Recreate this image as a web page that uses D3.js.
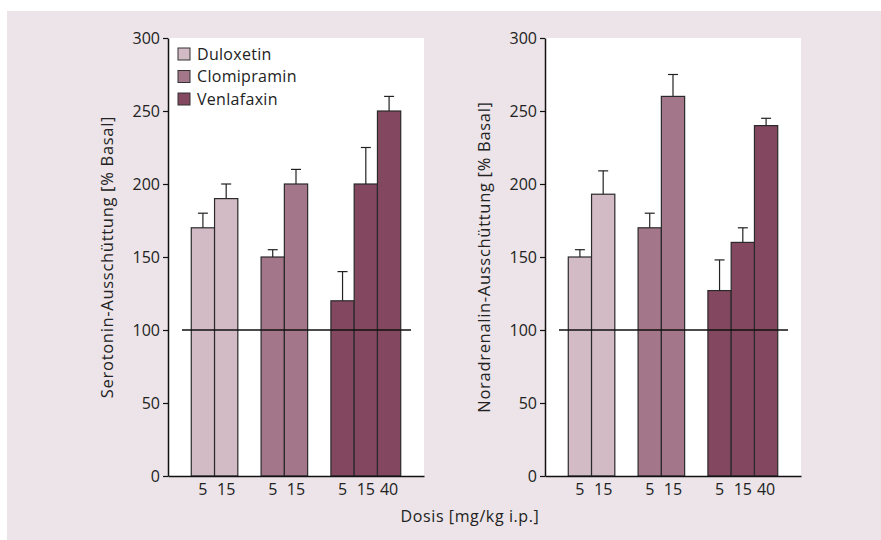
<!DOCTYPE html>
<html>
<head>
<meta charset="utf-8">
<script src="https://cdn.jsdelivr.net/npm/d3@7"></script>
<style>
  body { margin: 0; background: #fff; }
  svg { display: block; font-family: "Open Sans", "Noto Sans", sans-serif; }
</style>
</head>
<body>
<svg id="chart" width="881" height="540"></svg>
<script>
// Drugs and doses
const drugs = ["Duloxetin", "Clomipramin", "Venlafaxin"];
const drugColors = ["#d3bbc6", "#a37689", "#83475f"];
const doses = [[5, 15], [5, 15], [5, 15, 40]];

// Values (% basal) and upper error bars, per panel
const serotoninMean = [[170, 190], [150, 200], [120, 200, 250]];
const serotoninErr = [[180, 200], [155, 210], [140, 225, 260]];
const noradrenalinMean = [[150, 193], [170, 260], [127, 160, 240]];
const noradrenalinErr = [[155, 209], [180, 275], [148, 170, 245]];

const yTicks = [0, 50, 100, 150, 200, 250, 300];
const baseline = 100;

const svg = d3.select("#chart");

// outer background panel
svg.append("rect")
  .attr("x", 7).attr("y", 11)
  .attr("width", 874).attr("height", 529)
  .attr("fill", "#ece4e8");

function drawPanel(left, means, errs, yTitle, showLegend) {
  const top = 38, bottom = 476, width = 256;
  const g = svg.append("g");

  // build slot list: gap, bars..., gap, bars..., gap
  const rows = [];
  const slots = ["gap0"];
  drugs.forEach((drug, i) => {
    doses[i].forEach((dose, j) => {
      const key = drug + "-" + dose;
      rows.push({ key, drug, i, dose, value: means[i][j], err: errs[i][j] });
      slots.push(key);
    });
    slots.push("gap" + (i + 1));
  });

  const x = d3.scaleBand().domain(slots).range([left, left + width]).padding(0);
  const y = d3.scaleLinear().domain([0, 300]).range([bottom, top]);

  // white plot area
  g.append("rect")
    .attr("x", left).attr("y", top)
    .attr("width", width).attr("height", bottom - top)
    .attr("fill", "#fff");

  // bars
  g.selectAll("rect.bar")
    .data(rows)
    .join("rect")
    .attr("class", "bar")
    .attr("x", (d) => x(d.key))
    .attr("y", (d) => y(d.value))
    .attr("width", x.bandwidth())
    .attr("height", (d) => y(0) - y(d.value))
    .attr("fill", (d) => drugColors[d.i])
    .attr("stroke", "#2a2a2a")
    .attr("stroke-width", 1.2);

  // error bars (upper only)
  const eb = g.selectAll("g.err").data(rows).join("g").attr("class", "err");
  eb.append("line")
    .attr("x1", (d) => x(d.key) + x.bandwidth() / 2)
    .attr("x2", (d) => x(d.key) + x.bandwidth() / 2)
    .attr("y1", (d) => y(d.value))
    .attr("y2", (d) => y(d.err))
    .attr("stroke", "#222").attr("stroke-width", 1.2);
  eb.append("line")
    .attr("x1", (d) => x(d.key) + x.bandwidth() / 2 - 5)
    .attr("x2", (d) => x(d.key) + x.bandwidth() / 2 + 5)
    .attr("y1", (d) => y(d.err))
    .attr("y2", (d) => y(d.err))
    .attr("stroke", "#222").attr("stroke-width", 1.2);

  // 100 % reference line
  g.append("line")
    .attr("x1", left + 14).attr("x2", left + width - 13)
    .attr("y1", y(baseline)).attr("y2", y(baseline))
    .attr("stroke", "#111").attr("stroke-width", 1.5);

  // y axis
  const yAxis = g.append("g")
    .attr("transform", `translate(${left},0)`)
    .call(d3.axisLeft(y).tickValues(yTicks).tickSize(5).tickSizeOuter(0).tickPadding(3));
  yAxis.select(".domain").attr("stroke", "#111").attr("stroke-width", 1.5);
  yAxis.selectAll(".tick line").attr("stroke", "#111").attr("stroke-width", 1.2);
  yAxis.selectAll("text")
    .attr("font-size", "16px")
    .attr("font-family", "Open Sans, sans-serif")
    .attr("fill", "#222");

  // x axis (dose labels)
  const xAxis = g.append("g")
    .attr("transform", `translate(0,${bottom})`)
    .call(d3.axisBottom(x)
      .tickValues(rows.map((d) => d.key))
      .tickFormat((k) => k.split("-")[1])
      .tickSize(0).tickSizeOuter(0).tickPadding(8));
  xAxis.select(".domain").attr("stroke", "#111").attr("stroke-width", 1.5);
  xAxis.selectAll("text")
    .attr("font-size", "16px")
    .attr("font-family", "Open Sans, sans-serif")
    .attr("fill", "#222");

  // y axis title
  g.append("text")
    .attr("transform", `translate(${left - 55},${(top + bottom) / 2}) rotate(-90)`)
    .attr("text-anchor", "middle")
    .attr("font-size", "16.5px")
    .attr("letter-spacing", "0.7px")
    .attr("fill", "#222")
    .text(yTitle);

  if (showLegend) {
    const lg = g.selectAll("g.legend")
      .data(drugs)
      .join("g")
      .attr("class", "legend")
      .attr("transform", (d, i) => `translate(${left + 10},${54 + i * 22.5})`);
    lg.append("rect")
      .attr("x", 0).attr("y", -6)
      .attr("width", 12).attr("height", 12)
      .attr("fill", (d, i) => drugColors[i])
      .attr("stroke", "#333").attr("stroke-width", 1);
    lg.append("text")
      .attr("x", 19).attr("y", 0)
      .attr("dy", "0.35em")
      .attr("font-size", "16px")
      .attr("letter-spacing", "0.3px")
      .attr("fill", "#222")
      .text((d) => d);
  }
}

drawPanel(168, serotoninMean, serotoninErr, "Serotonin-Ausschüttung [% Basal]", true);
drawPanel(545, noradrenalinMean, noradrenalinErr, "Noradrenalin-Ausschüttung [% Basal]", false);

// shared x axis title
svg.append("text")
  .attr("x", 470).attr("y", 522)
  .attr("text-anchor", "middle")
  .attr("font-size", "16px")
  .attr("letter-spacing", "0.6px")
  .attr("fill", "#222")
  .text("Dosis [mg/kg i.p.]");
</script>
</body>
</html>
